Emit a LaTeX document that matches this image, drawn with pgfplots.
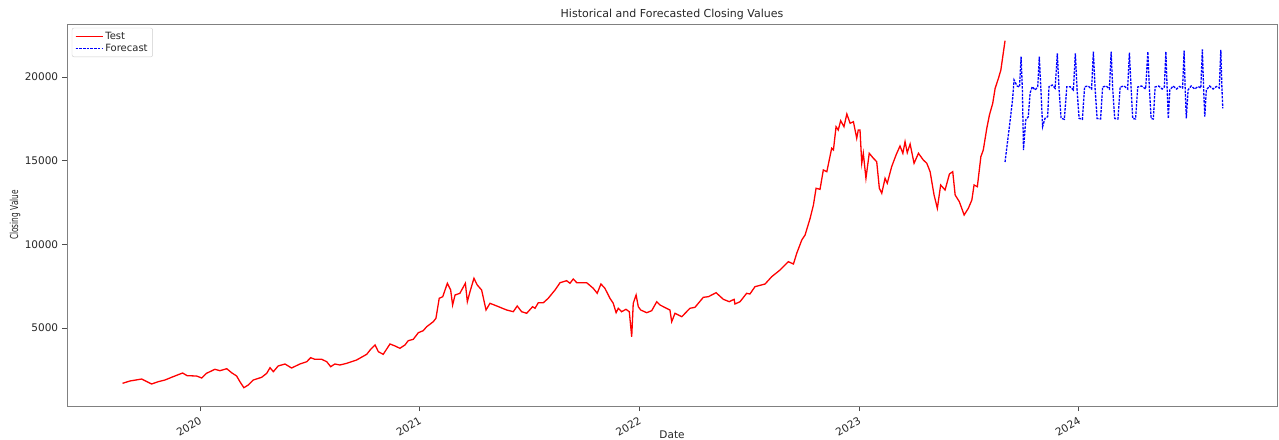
\documentclass[border=0pt,11pt]{standalone}
\usepackage{fontspec}
\setmainfont{DejaVu Sans}
\usepackage{pgfplots}
\pgfplotsset{compat=1.18}
\begin{document}
\begin{tikzpicture}
\useasboundingbox (-67pt,-33pt) rectangle (1212pt,406pt);
\begin{axis}[
 at={(0pt,0pt)}, anchor=south west,
 scale only axis, width=1210pt, height=382pt,
 xmin=2019.395, xmax=2024.902, ymin=339, ymax=23167,
 scaled y ticks=false, scaled x ticks=false,
 axis line style={black!50, line width=0.9pt},
 tick pos=left, tick align=outside, major tick length=5pt,
 tick style={black!70, line width=0.8pt},
 xtick={2020,2021,2022,2023,2024},
 xticklabels={2020,2021,2022,2023,2024},
 ytick={5000,10000,15000,20000},
 yticklabels={5000,10000,15000,20000},
 xticklabel style={rotate=30, anchor=north east, font=\fontsize{10.5}{12}\selectfont, text=black!85},
 yticklabel style={font=\fontsize{10.5}{12}\selectfont, text=black!85},
 every axis title shift=0pt,
 title={Historical and Forecasted Closing Values},
 title style={at={(axis description cs:0.5,1)}, anchor=base, yshift=6pt, font=\fontsize{11}{13}\selectfont, text=black!85},
 xlabel={Date},
 xlabel style={at={(axis description cs:0.5,0)}, anchor=north, yshift=-21pt, font=\fontsize{10.5}{12}\selectfont, text=black!85},
 ylabel={\scalebox{0.67}[1]{Closing Value}},
 ylabel style={at={(axis description cs:-0.043,0.5)}, anchor=center, font=\fontsize{11}{13}\selectfont, text=black!85},
 legend style={at={(0.004,0.99)}, anchor=north west, draw=black!20, rounded corners=2pt, font=\fontsize{10}{12}\selectfont, row sep=-1pt, inner xsep=3pt, inner ysep=2pt, text=black!85},
 legend cell align=left,
 legend image code/.code={\draw[#1] (0pt,0pt) -- (23pt,0pt); \path (0pt,0pt) -- (27pt,0pt);},
]
\addplot[red, line width=1.3pt, mark=none] table {
x y
2019.648 1695
2019.681 1832
2019.735 1952
2019.780 1653
2019.810 1791
2019.841 1893
2019.871 2054
2019.921 2311
2019.942 2150
2019.985 2131
2020.008 2012
2020.030 2293
2020.068 2532
2020.091 2448
2020.122 2568
2020.144 2329
2020.167 2131
2020.182 1791
2020.200 1432
2020.220 1594
2020.243 1893
2020.281 2054
2020.304 2293
2020.319 2628
2020.334 2389
2020.356 2730
2020.387 2849
2020.417 2610
2020.455 2849
2020.486 2986
2020.504 3225
2020.523 3130
2020.554 3130
2020.577 2986
2020.595 2688
2020.614 2849
2020.637 2789
2020.668 2890
2020.713 3088
2020.759 3428
2020.777 3727
2020.797 3984
2020.812 3584
2020.834 3428
2020.865 4044
2020.888 3925
2020.910 3787
2020.933 3984
2020.948 4242
2020.971 4325
2020.994 4720
2021.016 4839
2021.032 5078
2021.062 5377
2021.074 5580
2021.089 6775
2021.105 6871
2021.126 7672
2021.141 7271
2021.150 6375
2021.161 6972
2021.183 7074
2021.208 7672
2021.217 6572
2021.229 7169
2021.247 7970
2021.262 7570
2021.282 7271
2021.302 6076
2021.320 6476
2021.351 6315
2021.396 6076
2021.426 5974
2021.444 6315
2021.464 5974
2021.487 5879
2021.514 6273
2021.525 6178
2021.540 6512
2021.563 6512
2021.585 6775
2021.616 7271
2021.639 7708
2021.669 7827
2021.684 7672
2021.699 7929
2021.715 7708
2021.760 7708
2021.790 7373
2021.808 7074
2021.825 7630
2021.843 7373
2021.866 6775
2021.881 6476
2021.894 5915
2021.904 6178
2021.919 5974
2021.939 6118
2021.954 5974
2021.965 4480
2021.972 6476
2021.985 6972
2021.995 6273
2022.006 6076
2022.033 5915
2022.056 6034
2022.079 6572
2022.094 6375
2022.109 6273
2022.139 6076
2022.147 5377
2022.162 5879
2022.193 5676
2022.230 6178
2022.253 6237
2022.291 6835
2022.314 6871
2022.349 7110
2022.382 6715
2022.409 6572
2022.431 6715
2022.435 6434
2022.458 6572
2022.488 7074
2022.503 7032
2022.526 7469
2022.572 7630
2022.602 8066
2022.640 8466
2022.678 8962
2022.701 8825
2022.716 9464
2022.739 10259
2022.754 10558
2022.777 11556
2022.792 12351
2022.804 13349
2022.822 13289
2022.837 14442
2022.853 14341
2022.875 15739
2022.883 15637
2022.895 17030
2022.905 16833
2022.916 17389
2022.931 17030
2022.944 17789
2022.959 17233
2022.974 17329
2022.989 16337
2022.996 16833
2023.004 16833
2023.012 14843
2023.019 15440
2023.031 13946
2023.046 15440
2023.065 15142
2023.080 14939
2023.092 13349
2023.103 13050
2023.118 13946
2023.128 13648
2023.148 14640
2023.168 15339
2023.186 15877
2023.199 15440
2023.209 16134
2023.219 15477
2023.232 15996
2023.250 14843
2023.270 15440
2023.292 15040
2023.308 14843
2023.323 14341
2023.341 12948
2023.356 12153
2023.371 13546
2023.391 13247
2023.411 14203
2023.426 14341
2023.437 12948
2023.456 12548
2023.478 11753
2023.497 12153
2023.513 12650
2023.523 13546
2023.538 13444
2023.554 15237
2023.565 15637
2023.581 16934
2023.593 17729
2023.608 18428
2023.619 19325
2023.634 19922
2023.645 20418
2023.664 22169
};
\addlegendentry{Test}
\addplot[blue, line width=1.3pt, dash pattern=on 2.5pt off 1.2pt, mark=none] table {
x y
2023.664 14920
2023.673 15876
2023.687 17371
2023.698 18626
2023.705 19821
2023.719 19462
2023.730 19402
2023.737 21213
2023.743 19223
2023.748 15637
2023.758 17430
2023.770 17628
2023.778 19044
2023.788 19420
2023.801 19223
2023.813 19420
2023.820 21213
2023.828 19044
2023.835 17030
2023.846 17532
2023.858 17628
2023.864 19420
2023.879 19522
2023.892 19325
2023.902 21416
2023.910 19223
2023.919 17532
2023.934 17472
2023.945 19420
2023.960 19420
2023.975 19223
2023.984 21416
2023.992 19223
2024.001 17532
2024.016 17472
2024.026 19420
2024.042 19462
2024.058 19283
2024.066 21512
2024.074 19283
2024.083 17520
2024.099 17490
2024.108 19402
2024.124 19462
2024.139 19283
2024.147 21512
2024.154 19283
2024.163 17520
2024.178 17490
2024.188 19402
2024.206 19462
2024.222 19283
2024.230 21452
2024.238 19283
2024.245 17520
2024.258 17490
2024.268 19402
2024.285 19462
2024.304 19283
2024.314 21512
2024.321 19283
2024.329 17520
2024.339 17490
2024.347 19402
2024.363 19462
2024.379 19283
2024.389 19402
2024.396 21512
2024.402 19223
2024.407 17520
2024.414 19223
2024.429 19462
2024.445 19283
2024.458 19432
2024.472 19343
2024.479 21572
2024.484 19223
2024.489 17532
2024.497 19223
2024.511 19462
2024.527 19283
2024.543 19432
2024.555 19343
2024.562 21655
2024.568 19223
2024.573 17628
2024.580 19223
2024.595 19462
2024.611 19283
2024.626 19432
2024.639 19343
2024.646 21613
2024.651 19343
2024.655 18130
};
\addlegendentry{Forecast}
\end{axis}
\end{tikzpicture}
\end{document}
